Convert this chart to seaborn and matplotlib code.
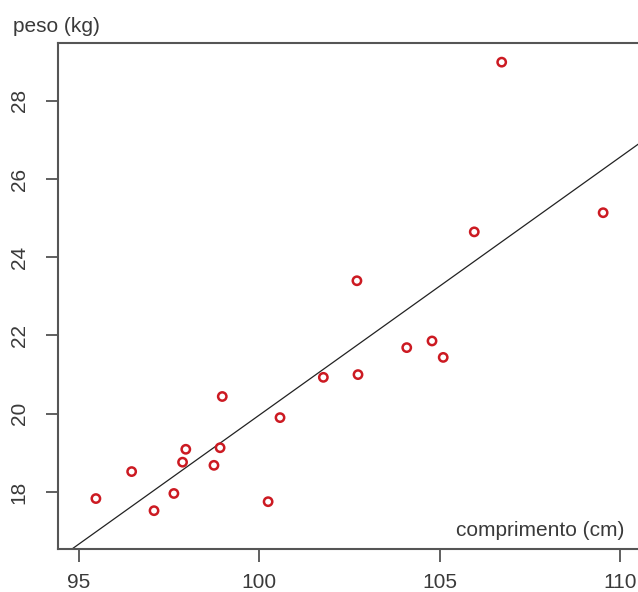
import matplotlib
matplotlib.use("Agg")
import matplotlib.pyplot as plt
import seaborn as sns
import pandas as pd

comprimento = [95.48, 96.47, 97.09, 97.64, 97.88, 97.97, 98.75, 98.92, 98.98, 100.25,
               100.58, 101.78, 102.71, 102.74, 104.09, 104.79, 105.10, 105.96, 106.72, 109.53]
peso = [17.83, 18.52, 17.52, 17.96, 18.76, 19.09, 18.68, 19.13, 20.44, 17.75,
        19.90, 20.93, 23.40, 21.00, 21.69, 21.86, 21.44, 24.65, 28.99, 25.14]
x_ticks = [95, 100, 105, 110]
y_ticks = [18, 20, 22, 24, 26, 28]
x_label = "comprimento (cm)"
y_label = "peso (kg)"

df = pd.DataFrame({"comprimento": comprimento, "peso": peso})

sns.set_style("white")
plt.rcParams["font.family"] = ["Liberation Sans", "DejaVu Sans"]
text_color = "#3a3a3a"

fig = plt.figure(figsize=(6.38, 5.92), dpi=100)
ax = fig.add_axes([58 / 638, 43 / 592, 0.915, 506 / 592])
ax.set_xlim(94.43, 110.6)
ax.set_ylim(16.54, 29.48)

sns.regplot(data=df, x="comprimento", y="peso", scatter=False, ci=None,
            truncate=False, ax=ax, line_kws=dict(color="#222222", lw=0.9))
sns.scatterplot(data=df, x="comprimento", y="peso", ax=ax, s=36,
                facecolor="none", edgecolor="#cc1a22", linewidth=1.8, zorder=3)

ax.set_xlim(94.43, 110.6)
ax.set_ylim(16.54, 29.48)
ax.set_xticks(x_ticks)
ax.set_yticks(y_ticks)
ax.set_xticklabels([str(t) for t in x_ticks])
ax.set_yticklabels([str(t) for t in y_ticks], rotation=90, va="center")
ax.set_xlabel("")
ax.set_ylabel("")
ax.tick_params(axis="both", direction="out", length=9, width=1.2,
               color="#444444", labelsize=15, labelcolor=text_color)
ax.tick_params(axis="x", pad=8.5)
ax.tick_params(axis="y", pad=12)
ax.tick_params(left=True, bottom=True)
for side in ["left", "bottom", "top", "right"]:
    ax.spines[side].set_visible(True)
    ax.spines[side].set_color("#555555")
    ax.spines[side].set_linewidth(1.5)

fig.text(13 / 638, 1 - 27 / 592, y_label, ha="left", va="center",
         fontsize=15, color=text_color)
fig.text(624 / 638, 1 - 530 / 592, x_label, ha="right", va="center",
         fontsize=15, color=text_color)

fig.savefig("out.png", dpi=100)
